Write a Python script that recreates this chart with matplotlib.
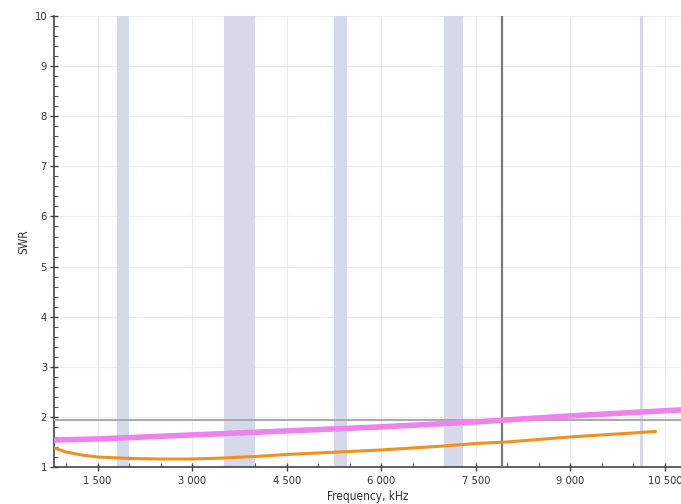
import matplotlib
matplotlib.use("Agg")
import matplotlib.pyplot as plt
from matplotlib.ticker import MultipleLocator, FuncFormatter

# Data
freq_pink = [810, 1500, 3000, 4500, 6000, 7500, 9000, 10754]
swr_pink = [1.54, 1.56, 1.64, 1.72, 1.80, 1.90, 2.02, 2.14]

freq_orange = [810, 1000, 1250, 1500, 2000, 2500, 3000, 3500, 4000, 4500, 5000,
               5500, 6000, 6500, 7000, 7500, 8000, 8500, 9000, 9500, 10000, 10350]
swr_orange = [1.38, 1.30, 1.24, 1.20, 1.17, 1.16, 1.16, 1.18, 1.21, 1.25, 1.28,
              1.31, 1.34, 1.38, 1.42, 1.47, 1.50, 1.55, 1.60, 1.64, 1.68, 1.71]

bands = [(1810, 2000), (3500, 4000), (5250, 5450), (7000, 7300), (10100, 10150)]
marker_freq = 7910
swr_limit = 1.94

plt.rcParams["font.family"] = ["DejaVu Sans"]
plt.rcParams["font.stretch"] = "condensed"

fig = plt.figure(figsize=(6.81, 5.04), dpi=100)
ax = fig.add_axes([0.0793, 0.0734, 0.9207, 0.8948])

for lo, hi in bands:
    ax.axvspan(lo, hi, color="#d6d9e9", lw=0, zorder=1)

ax.axvline(marker_freq, color="#7a7a7a", lw=1.6, zorder=3)
ax.axhline(swr_limit, color="#a8a8a8", lw=1.4, zorder=3)

ax.plot(freq_pink, swr_pink, color="#ee82ee", lw=4, zorder=4, solid_capstyle="butt")
ax.plot(freq_orange, swr_orange, color="#f0901e", lw=2.2, zorder=5,
        solid_capstyle="round")

ax.set_xlim(810, 10754)
ax.set_ylim(1, 10)

ax.xaxis.set_major_locator(MultipleLocator(1500))
ax.xaxis.set_minor_locator(MultipleLocator(500))
ax.yaxis.set_major_locator(MultipleLocator(1))
ax.yaxis.set_minor_locator(MultipleLocator(0.2))
ax.xaxis.set_major_formatter(FuncFormatter(lambda v, p: f"{int(v):,}".replace(",", " ")))

ax.grid(True, which="major", color="#ebebf2", lw=0.8, zorder=0)
ax.set_axisbelow(True)

for s in ["top", "right"]:
    ax.spines[s].set_visible(False)
for s in ["left", "bottom"]:
    ax.spines[s].set_color("#444444")
    ax.spines[s].set_linewidth(1.2)

ax.tick_params(axis="both", which="major", direction="inout", length=6, width=1,
               colors="#444444", labelsize=8, labelcolor="#333333")
ax.tick_params(axis="y", which="major", pad=2)
ax.tick_params(axis="both", which="minor", direction="in", length=3, width=0.8,
               colors="#555555")

ax.set_xlabel("Frequency, kHz", fontsize=8.5, color="#333333", labelpad=3)
ax.set_ylabel("SWR", fontsize=8.5, color="#333333", labelpad=3)

fig.savefig("out.png", dpi=100)
